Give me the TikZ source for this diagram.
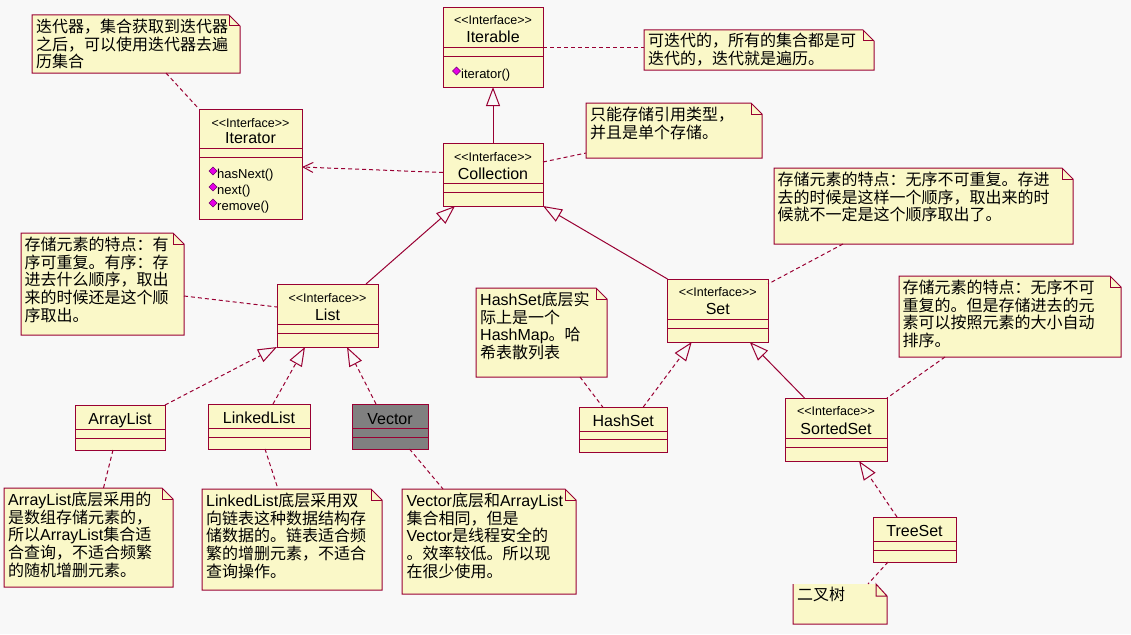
\documentclass[tikz,border=0pt]{standalone}
\usepackage{fontspec}
\setmainfont{Noto Sans CJK SC}
\newfontfamily\lat{Liberation Sans}
\usetikzlibrary{arrows.meta,calc}
\definecolor{umlred}{RGB}{153,0,51}
\definecolor{umlfill}{RGB}{250,248,200}
\definecolor{umlbg}{RGB}{248,248,248}
\definecolor{umlgray}{RGB}{128,128,128}
\definecolor{opmag}{RGB}{230,0,230}
\definecolor{opdark}{RGB}{110,0,110}
\tikzset{
  cls/.style={draw=umlred, fill=umlfill, line width=1pt, inner sep=0pt, outer sep=0pt},
  grayed/.style={fill=umlgray},
  clsline/.style={draw=umlred, line width=1pt},
  stereo/.style={font=\lat\fontsize{12.5pt}{14pt}\selectfont, anchor=base, inner sep=0pt},
  cname/.style={font=\lat\fontsize{16pt}{18pt}\selectfont, anchor=base, inner sep=0pt},
  opname/.style={font=\lat\fontsize{13pt}{15pt}\selectfont, anchor=base west, inner sep=0pt},
  noteshape/.style={draw=none, fill=none, inner sep=0pt, outer sep=0pt},
  notedraw/.style={draw=umlred, fill=umlfill, line width=1pt, line join=miter},
  notetext/.style={font=\fontsize{16pt}{17.8pt}\selectfont, anchor=north west, align=left, inner sep=0pt, execute at begin node=\rule{0pt}{13pt}},
  notelink/.style={draw=umlred, line width=1pt, dash pattern=on 4pt off 3pt},
  umlgen/.style={draw=umlred, line width=1pt, -{Triangle[open, length=19pt, width=14pt]}},
  umlreal/.style={umlgen, dash pattern=on 4pt off 3pt},
  umldep/.style={notelink, -{Straight Barb[length=10pt, width=10pt]}},
}
\newcommand\UmlClass[8]{%
  \node[cls,#8, minimum width={#4-#2}, minimum height={#5-#3}] (#1) at ({(#2+#4)/2},{(#3+#5)/2}) {};
  \draw[clsline] (#2,#6) -- (#4,#6) (#2,#7) -- (#4,#7);
}
\newcommand\UmlNote[5]{%
  \node[noteshape, minimum width={#4-#2}, minimum height={#5-#3}] (#1) at ({(#2+#4)/2},{(#3+#5)/2}) {};
  \filldraw[notedraw] (#2,#5) -- (#2,#3) -- ({#4-11},#3) -- (#4,{#3+11}) -- (#4,#5) -- cycle;
  \draw[notedraw, fill=none] ({#4-11},#3) -- ({#4-11},{#3+11}) -- (#4,{#3+11});
}
\newcommand\OpMark[2]{%
  \filldraw[fill=opmag, draw=opdark, line width=0.6pt] ({#1-4},#2) -- (#1,{#2-4}) -- ({#1+4},#2) -- (#1,{#2+4}) -- cycle;
}
\newcommand\IfaceText{<\kern0pt<Interface>\kern0pt>}
\begin{document}
\begin{tikzpicture}[x=1pt,y=-1pt]
\fill[umlbg] (0,0) rectangle (1131,634);
\useasboundingbox (0,0) rectangle (1131,634);

% ---------- classes ----------
\UmlClass{iterable}{443}{8}{543}{87}{48}{57}{}
\node[stereo] (iterable-s) at (493,25) {\IfaceText};
\node[cname] (iterable-n) at (493,43) {Iterable};
\OpMark{456.5}{71}
\node[opname] (iterable-o) at (461,78) {iterator()};

\UmlClass{collection}{443}{143}{543}{206}{183}{192}{}
\node[stereo] (collection-s) at (493,161) {\IfaceText};
\node[cname] (collection-n) at (493,179) {Collection};

\UmlClass{iterator}{199}{109}{302}{219}{148}{157}{}
\node[stereo] (iterator-s) at (250.5,127.5) {\IfaceText};
\node[cname] (iterator-n) at (250.5,143) {Iterator};
\OpMark{213}{171}
\node[opname] (iterator-o1) at (217,178) {hasNext()};
\OpMark{213}{187}
\node[opname] (iterator-o2) at (217,194) {next()};
\OpMark{213}{203}
\node[opname] (iterator-o3) at (217,210) {remove()};

\UmlClass{list}{277}{284}{378}{347}{324}{333}{}
\node[stereo] (list-s) at (327.5,302) {\IfaceText};
\node[cname] (list-n) at (327.5,320) {List};

\UmlClass{arraylist}{75}{405}{165}{450}{429}{438}{}
\node[cname] (arraylist-n) at (120,424) {ArrayList};
\UmlClass{linkedlist}{208}{404}{310}{449}{428}{437}{}
\node[cname] (linkedlist-n) at (259,423.5) {LinkedList};
\UmlClass{vector}{352}{404}{428}{449}{428}{437}{grayed}
\node[cname] (vector-n) at (390,424) {Vector};

\UmlClass{set}{667.5}{279}{768}{342}{319}{328}{}
\node[stereo] (set-s) at (717.75,296) {\IfaceText};
\node[cname] (set-n) at (717.75,314) {Set};
\UmlClass{hashset}{579}{407}{667.5}{452}{431}{439}{}
\node[cname] (hashset-n) at (623.25,426) {HashSet};
\UmlClass{sortedset}{785}{398}{887}{461}{438}{447}{}
\node[stereo] (sortedset-s) at (836,415.5) {\IfaceText};
\node[cname] (sortedset-n) at (836,434) {SortedSet};
\UmlClass{treeset}{873}{517}{956}{562}{541}{550}{}
\node[cname] (treeset-n) at (914.5,536.5) {TreeSet};

% ---------- notes ----------
\UmlNote{itnote}{32}{15}{240}{73}
\node[notetext] (itnote-t) at (36,18.6) {迭代器，集合获取到迭代器\\之后，可以使用迭代器去遍\\历集合};
\UmlNote{iterablenote}{644}{30}{874}{70}
\node[notetext] (iterablenote-t) at (648,32.6) {可迭代的，所有的集合都是可\\迭代的，迭代就是遍历。};
\UmlNote{colnote}{586}{103}{762}{158}
\node[notetext] (colnote-t) at (590,106.6) {只能存储引用类型，\\并且是单个存储。};
\UmlNote{setnote}{774}{168}{1073}{244}
\node[notetext] (setnote-t) at (777.5,171.6) {存储元素的特点：无序不可重复。存进\\去的时候是这样一个顺序，取出来的时\\候就不一定是这个顺序取出了。};
\UmlNote{listnote}{21}{233}{184}{335}
\node[notetext] (listnote-t) at (24.5,236.6) {存储元素的特点：有\\序可重复。有序：存\\进去什么顺序，取出\\来的时候还是这个顺\\序取出。};
\UmlNote{hashnote}{476}{288}{607}{377}
\node[notetext] (hashnote-t) at (480,291.6) {{\lat HashSet}底层实\\际上是一个\\{\lat HashMap}。哈\\希表散列表};
\UmlNote{sortnote}{899}{276}{1121}{357}
\node[notetext] (sortnote-t) at (902.5,279.6) {存储元素的特点：无序不可\\重复的。但是存储进去的元\\素可以按照元素的大小自动\\排序。};
\UmlNote{alnote}{4}{488}{173}{587}
\node[notetext] (alnote-t) at (8,491.6) {{\lat ArrayList}底层采用的\\是数组存储元素的，\\所以{\lat ArrayList}集合适\\合查询，不适合频繁\\的随机增删元素。};
\UmlNote{llnote}{202}{489}{382}{590}
\node[notetext] (llnote-t) at (206,492.6) {{\lat LinkedList}底层采用双\\向链表这种数据结构存\\储数据的。链表适合频\\繁的增删元素，不适合\\查询操作。};
\UmlNote{vecnote}{402}{489}{576}{594}
\node[notetext] (vecnote-t) at (406.5,492.6) {{\lat Vector}底层和{\lat ArrayList}\\集合相同，但是\\{\lat Vector}是线程安全的\\。效率较低。所以现\\在很少使用。};

% note without top border
\node[noteshape, minimum width=94, minimum height=40] (treenote) at (840,604) {};
\fill[umlfill] (793,584) -- (876,584) -- (887,596) -- (887,624) -- (793,624) -- cycle;
\draw[notedraw, fill=none] (793,584) -- (793,624) -- (887,624) -- (887,596) -- (876,584) -- (876,596) -- (887,596);
\node[notetext] (treenote-t) at (797,586.6) {二叉树};

% ---------- connectors ----------
\draw[notelink] ([xshift=134]itnote.south west) -- (iterator.north west);
\draw[notelink] (iterable.east) -- (iterable.east -| iterablenote.west);
\draw[umlgen] (collection.north) -- (iterable.south);
\draw[notelink] ([yshift=12.5]collection.east) -- ([yshift=5]colnote.south west);
\draw[umldep] ([yshift=2]collection.west) -- ([yshift=-3]iterator.east);
\draw[umlgen] ([xshift=38.5]list.north) -- ([xshift=12]collection.south west);
\draw[umlgen] (set.north west) -- (collection.south east);
\draw[notelink] ([yshift=-12]listnote.east) -- ([yshift=8.5]list.west);
\draw[umlreal] (arraylist.north east) -- (list.south west);
\draw[umlreal] ([xshift=14]linkedlist.north) -- ([xshift=-22.5]list.south);
\draw[umlreal] ([xshift=-14]vector.north) -- ([xshift=19.5]list.south);
\draw[notelink] ([xshift=-7]arraylist.south) -- ([xshift=99.5]alnote.north west);
\draw[notelink] ([xshift=6]linkedlist.south) -- ([xshift=76]llnote.north west);
\draw[notelink] ([xshift=19.5]vector.south) -- ([xshift=41]vecnote.north west);
\draw[notelink] ([xshift=69]setnote.south west) -- ([yshift=-5]set.north east);
\draw[umlreal] ([xshift=20]hashset.north) -- ([xshift=-26]set.south);
\draw[notelink] ([xshift=104]hashnote.south west) -- ([xshift=-20.5]hashset.north);
\draw[umlgen] ([xshift=-31.5]sortedset.north) -- ([xshift=32]set.south);
\draw[notelink] ([xshift=46]sortnote.south west) -- (sortedset.north east);
\draw[umlreal] ([xshift=-17.5]treeset.north) -- ([xshift=23]sortedset.south);
\draw[notelink] ([xshift=-26.5]treeset.south) -- ([xshift=75]treenote.north west);
\end{tikzpicture}
\end{document}
